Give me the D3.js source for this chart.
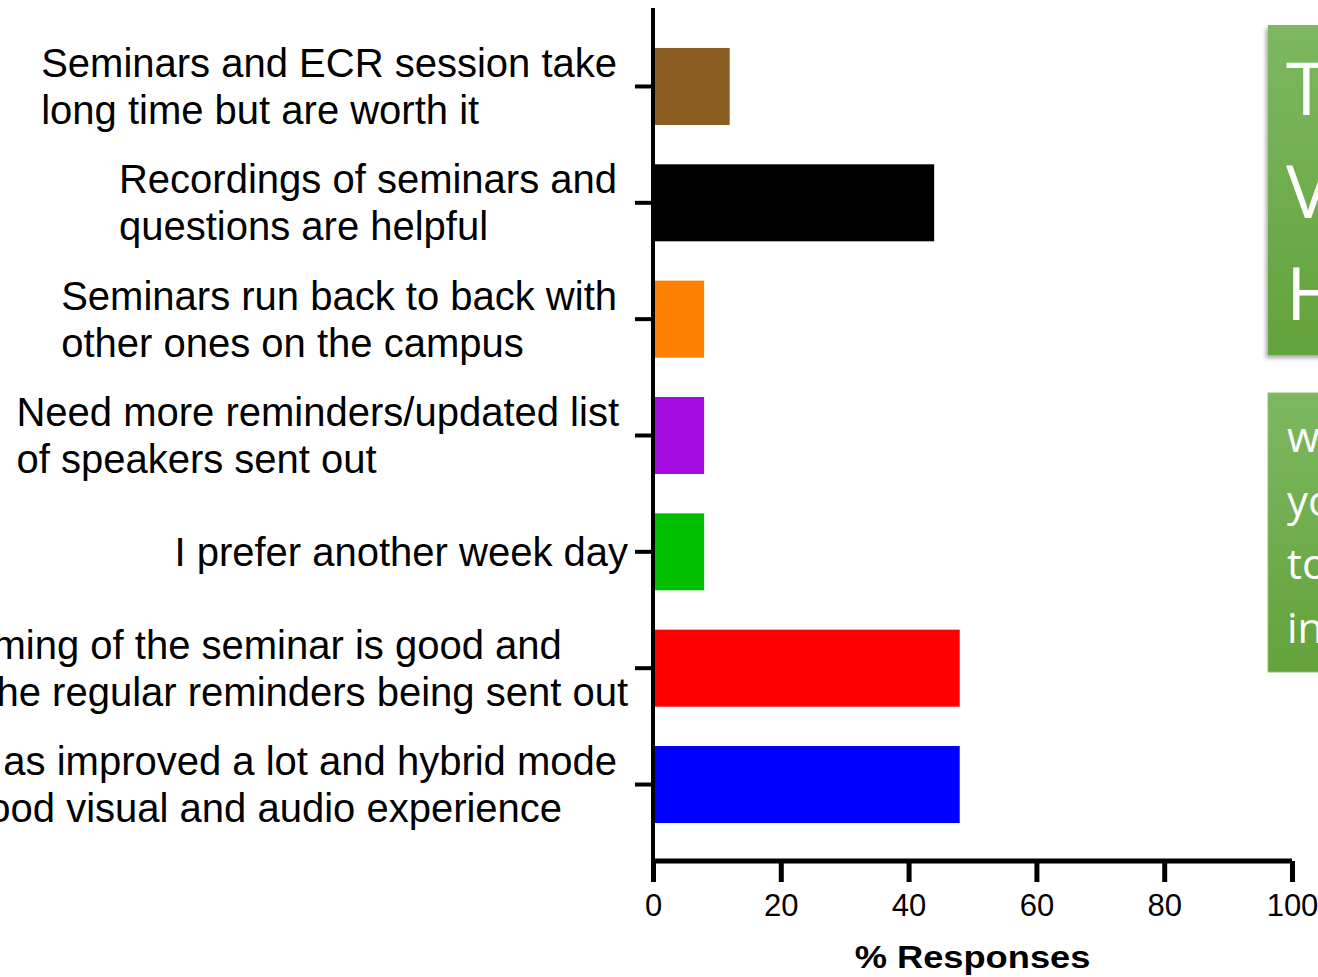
<!DOCTYPE html>
<html><head><meta charset="utf-8">
<script src="https://cdn.jsdelivr.net/npm/d3@7"></script>
<style>html,body{margin:0;padding:0;background:#fff;overflow:hidden}</style>
</head><body>
<script>
// ---- data ----
const categories = [
  "Seminars and ECR session take long time but are worth it",
  "Recordings of seminars and questions are helpful",
  "Seminars run back to back with other ones on the campus",
  "Need more reminders/updated list of speakers sent out",
  "I prefer another week day",
  "ming of the seminar is good and he regular reminders being sent out",
  "as improved a lot and hybrid mode ood visual and audio experience"
];
const labelLines = [
  ["Seminars and ECR session take", "long time but are worth it"],
  ["Recordings of seminars and", "questions are helpful"],
  ["Seminars run back to back with", "other ones on the campus"],
  ["Need more reminders/updated list", "of speakers sent out"],
  ["I prefer another week day"],
  ["ming of the seminar is good and", "he regular reminders being sent out"],
  ["as improved a lot and hybrid mode", "ood visual and audio experience"]
];
const values = [12, 44, 8, 8, 8, 48, 48];
const barColors = ["#8C5D20", "#000000", "#FF8000", "#A40BE0", "#00BF00", "#FF0000", "#0000FF"];
const xTicks = [0, 20, 40, 60, 80, 100];
const xTitle = "% Responses";
const box1Lines = ["T", "V", "H"];
const box2Lines = ["w", "yo", "to", "in"];

// ---- layout ----
const W = 1318, H = 977;
const svg = d3.select("body").append("svg").attr("width", W).attr("height", H);
const x = d3.scaleLinear().domain([0, 100]).range([653, 1292]);
const y = d3.scaleBand().domain(categories).range([28.3, 842.7]).paddingInner(0.338).paddingOuter(0.169);
const font = "'Liberation Sans', Arial, Helvetica, sans-serif";

// bars
svg.append("g").selectAll("rect").data(values).join("rect")
  .attr("x", x(0))
  .attr("y", (d, i) => y(categories[i]))
  .attr("height", y.bandwidth())
  .attr("width", d => x(d) - x(0))
  .attr("fill", (d, i) => barColors[i]);

// y axis
const yAxis = svg.append("g").attr("transform", `translate(${x(0)},0)`)
  .call(d3.axisLeft(y).tickSize(18).tickFormat(""));
yAxis.select(".domain").remove();
yAxis.selectAll(".tick line").attr("stroke", "#000").attr("stroke-width", 4);
svg.append("line").attr("x1", x(0)).attr("x2", x(0)).attr("y1", 8).attr("y2", 862)
  .attr("stroke", "#000").attr("stroke-width", 4);

// category labels
const rightEdges = [617, 617, 617, 619, 628, 628, 617];
const lineShift = { "5-0": -4, "6-1": -15 };
const lineGap = 47;
const labG = svg.append("g").attr("font-family", font).attr("font-size", 40).attr("fill", "#000");
labelLines.forEach((lines, i) => {
  const cy = y(categories[i]) + y.bandwidth() / 2;
  const g = labG.append("g");
  const n = lines.length;
  const ts = lines.map((t, k) => g.append("text")
    .attr("y", cy + (k - (n - 1) / 2) * lineGap + 14)
    .text(t));
  const wmax = d3.max(ts, t => t.node().getComputedTextLength());
  ts.forEach((t, k) => t.attr("x", rightEdges[i] - wmax + (lineShift[i + "-" + k] || 0)));
});

// x axis
const xAxis = svg.append("g").attr("transform", "translate(0,861)")
  .call(d3.axisBottom(x).tickValues(xTicks).tickSize(21).tickPadding(12).tickSizeOuter(0));
xAxis.select(".domain").attr("stroke", "#000").attr("stroke-width", 5).attr("d", `M${x(0)},0H${x(100)}`);
xAxis.selectAll(".tick line").attr("stroke", "#000").attr("stroke-width", 5);
xAxis.selectAll(".tick text").attr("font-family", font).attr("font-size", 31).attr("fill", "#000")
  .attr("dy", "0.71em");

svg.append("text")
  .attr("transform", `translate(${(x(0) + x(100)) / 2},968) scale(1.17,1)`)
  .attr("text-anchor", "middle").attr("font-family", font).attr("font-weight", "bold")
  .attr("font-size", 31).attr("fill", "#000").text(xTitle);

// green boxes (cut-off slide panels)
const defs = svg.append("defs");
const grad = defs.append("linearGradient").attr("id", "gg").attr("x1", 0).attr("y1", 0).attr("x2", 0).attr("y2", 1);
grad.append("stop").attr("offset", "0%").attr("stop-color", "#7DB861");
grad.append("stop").attr("offset", "100%").attr("stop-color", "#63A23B");
const f = defs.append("filter").attr("id", "sh").attr("x", "-20%").attr("y", "-10%").attr("width", "140%").attr("height", "130%");
f.append("feDropShadow").attr("dx", -2).attr("dy", 3).attr("stdDeviation", 2).attr("flood-color", "#000").attr("flood-opacity", 0.35);

svg.append("rect").attr("x", 1268).attr("y", 25).attr("width", 80).attr("height", 330)
  .attr("fill", "url(#gg)").attr("filter", "url(#sh)");
svg.append("rect").attr("x", 1268).attr("y", 393).attr("width", 80).attr("height", 279)
  .attr("fill", "url(#gg)").attr("stroke", "#8cbf6f").attr("stroke-width", 1);

const gf = "'Open Sans', 'Noto Sans', sans-serif";
svg.append("g").selectAll("text").data(box1Lines).join("text")
  .attr("x", 1286).attr("y", (d, i) => 115 + i * 102.5)
  .attr("font-family", gf).attr("font-size", 74).attr("fill", "#fff").text(d => d);
svg.append("g").selectAll("text").data(box2Lines).join("text")
  .attr("x", 1287).attr("y", (d, i) => 452 + i * 63.5)
  .attr("font-family", gf).attr("font-size", 42).attr("fill", "#fff").text(d => d);
</script>
</body></html>
